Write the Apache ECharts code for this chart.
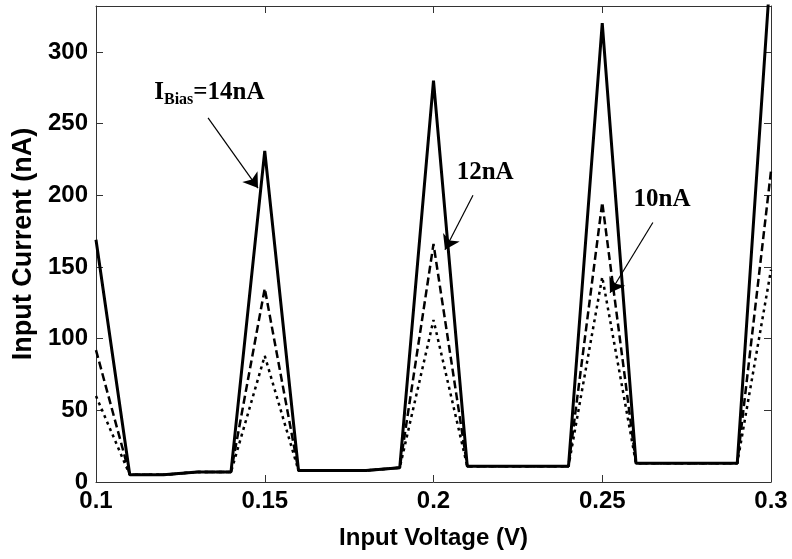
<!DOCTYPE html>
<html>
<head>
<meta charset="utf-8">
<script src="https://cdn.jsdelivr.net/npm/echarts@6/dist/echarts.min.js"></script>
<style>html,body{margin:0;padding:0;background:#fff;}#c{width:792px;height:559px;}</style>
</head>
<body>
<div id="c"></div>
<script>
// Input voltage (V)
const voltage = [0.10,0.11,0.12,0.13,0.14,0.15,0.16,0.17,0.18,0.19,0.20,0.21,0.22,0.23,0.24,0.25,0.26,0.27,0.28,0.29,0.30];
// Input current (nA) for each bias current
const bias14 = [169,5,5,7,7,231,8,8,8,10,280,11,11,11,11,320,13,13,13,13,362];
const bias12 = [92,5,5,7,7,135,8,8,8,10,166,11,11,11,11,195,13,13,13,13,217];
const bias10 = [60,5,5,7,7,88,8,8,8,10,113,11,11,11,11,143,13,13,13,13,148];
const xTicks = ['0.1','0.15','0.2','0.25','0.3'];
const yTicks = ['0','50','100','150','200','250','300'];
// annotations: [label, textX(V), textY(nA), arrowFromX, arrowFromY, arrowToX, arrowToY]
const notes = [
  ['14nA', 0.1336, 273, 0.1332, 254, 0.1480, 205],
  ['12nA', 0.2153, 217, 0.2117, 200, 0.2034, 162],
  ['10nA', 0.2677, 198, 0.2650, 181, 0.2523, 132]
];

// axis runs in hundredths of a volt (10..30) so ticks fall on exact integers
const toAx = v => Math.round(v * 10000) / 100;
const pair = (xs, ys) => xs.map((x, i) => [toAx(x), ys[i]]);
const chart = echarts.init(document.getElementById('c'), null, {renderer: 'canvas'});
const frame = {lineStyle: {color: '#333', width: 1}};
const tickIn = {show: true, inside: true, length: 7, lineStyle: {color: '#333', width: 1}};
const labelFont = {color: '#000', fontFamily: 'Liberation Sans, Arial, sans-serif', fontWeight: 'bold', fontSize: 24};
const xFmt = v => { const s = String(+(v / 100).toFixed(2)); return xTicks.includes(s) ? s : ''; };

const serif = 'Liberation Serif, Times New Roman, serif';
const noteLabel = (n, first) => ({
  show: true,
  position: 'inside',
  formatter: first ? '{i|I}{s|Bias}{t|=' + n + '}' : '{t|' + n + '}',
  rich: {
    i: {fontFamily: serif, fontWeight: 'bold', fontSize: 25, color: '#000', verticalAlign: 'bottom', lineHeight: 28},
    s: {fontFamily: serif, fontWeight: 'bold', fontSize: 16, color: '#000', verticalAlign: 'bottom', lineHeight: 28, padding: [0, 0, -3, 0]},
    t: {fontFamily: serif, fontWeight: 'bold', fontSize: 25, color: '#000', verticalAlign: 'bottom', lineHeight: 28}
  }
});

chart.setOption({
  animation: false,
  backgroundColor: '#fff',
  grid: {left: 96, right: 21, top: 6, bottom: 77, containLabel: false},
  xAxis: [{
    type: 'value', min: 10, max: 30, interval: 5,
    name: 'Input Voltage (V)', nameLocation: 'middle', nameGap: 44,
    nameTextStyle: {color: '#000', fontFamily: 'Liberation Sans, Arial, sans-serif', fontWeight: 'bold', fontSize: 24},
    axisLine: {show: true, onZero: false, ...frame},
    axisTick: tickIn,
    axisLabel: {...labelFont, margin: 7, formatter: xFmt},
    splitLine: {show: false}
  }, {
    type: 'value', min: 10, max: 30, interval: 5, position: 'top',
    axisLine: {show: true, onZero: false, ...frame},
    axisTick: tickIn,
    axisLabel: {show: false}, splitLine: {show: false}
  }],
  yAxis: [{
    type: 'value', min: 0, max: 332, interval: 50,
    name: 'Input Current (nA)', nameLocation: 'middle', nameGap: 57,
    nameTextStyle: {color: '#000', fontFamily: 'Liberation Sans, Arial, sans-serif', fontWeight: 'bold', fontSize: 27},
    axisLine: {show: true, onZero: false, ...frame},
    axisTick: tickIn,
    axisLabel: {...labelFont, margin: 8, showMaxLabel: false, formatter: v => { const s = String(Math.round(v)); return yTicks.includes(s) && v % 50 === 0 ? s : ''; }},
    splitLine: {show: false}
  }, {
    type: 'value', min: 0, max: 332, interval: 50, position: 'right',
    axisLine: {show: true, onZero: false, ...frame},
    axisTick: tickIn, axisLabel: {show: false}, splitLine: {show: false}
  }],
  series: [
    {
      name: '14nA', type: 'line', data: pair(voltage, bias14), showSymbol: false, clip: true,
      xAxisIndex: 0, yAxisIndex: 0,
      lineStyle: {color: '#000', width: 3, type: 'solid'},
      markLine: {
        silent: true, symbol: ['none', 'arrow'], symbolSize: 14,
        lineStyle: {color: '#000', width: 1.2, type: 'solid'}, label: {show: false},
        data: notes.map(n => [{coord: [toAx(n[3]), n[4]]}, {coord: [toAx(n[5]), n[6]]}])
      },
      markPoint: {
        silent: true, symbol: 'circle', symbolSize: 0,
        data: notes.map((n, i) => ({coord: [toAx(n[1]), n[2]], label: noteLabel(n[0], i === 0)}))
      }
    },
    {
      name: '12nA', type: 'line', data: pair(voltage, bias12), showSymbol: false, clip: true,
      xAxisIndex: 0, yAxisIndex: 0,
      lineStyle: {color: '#000', width: 2.5, type: [8, 4]}
    },
    {
      name: '10nA', type: 'line', data: pair(voltage, bias10), showSymbol: false, clip: true,
      xAxisIndex: 0, yAxisIndex: 0,
      lineStyle: {color: '#000', width: 2.5, type: [3, 4]}
    }
  ]
});
</script>
</body>
</html>
